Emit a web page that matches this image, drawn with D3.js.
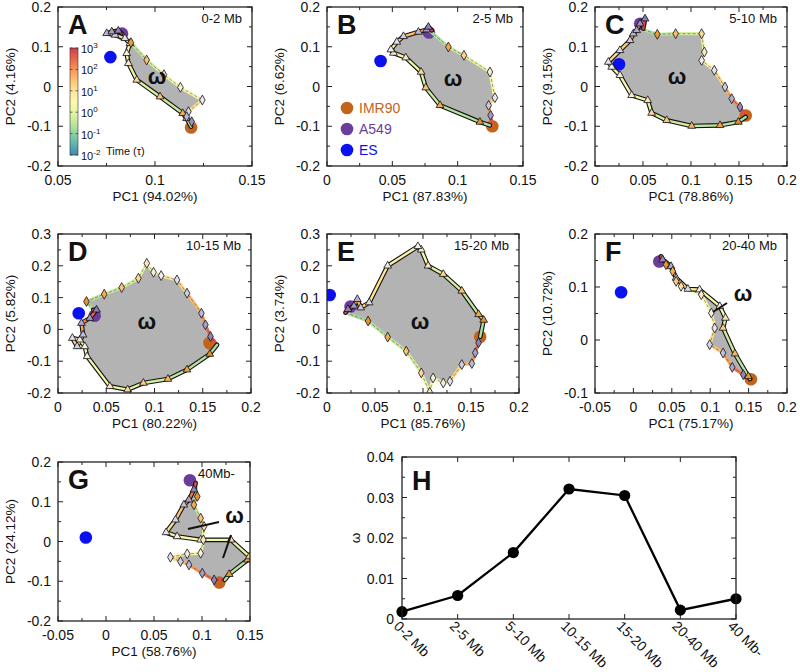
<!DOCTYPE html>
<html><head><meta charset="utf-8">
<script src="https://cdn.jsdelivr.net/npm/d3@7"></script>
<style>body{margin:0;background:#fff} text{font-family:"Liberation Sans",Arial,Helvetica,sans-serif;fill:#111}</style>
</head><body><svg id="c" width="800" height="672"></svg>
<script>
// ---------------- DATA ----------------
const panelNames = ["A","B","C","D","E","F","G"];
const sizeLabels = ["0-2 Mb","2-5 Mb","5-10 Mb","10-15 Mb","15-20 Mb","20-40 Mb","40Mb-"];
const pc1Labels = ["PC1 (94.02%)","PC1 (87.83%)","PC1 (78.86%)","PC1 (80.22%)","PC1 (85.76%)","PC1 (75.17%)","PC1 (58.76%)"];
const pc2Labels = ["PC2 (4.16%)","PC2 (6.62%)","PC2 (9.15%)","PC2 (5.82%)","PC2 (3.74%)","PC2 (10.72%)","PC2 (24.12%)"];
const xDomains = [[0.05,0.15],[0,0.15],[0,0.2],[0,0.2],[0,0.2],[-0.05,0.2],[-0.05,0.15]];
const yDomains = [[-0.2,0.2],[-0.2,0.2],[-0.2,0.2],[-0.2,0.3],[-0.2,0.3],[-0.1,0.2],[-0.2,0.2]];
const xTicks = [[0.05,0.1,0.15],[0,0.05,0.1,0.15],[0,0.05,0.1,0.15,0.2],[0,0.05,0.1,0.15,0.2],[0,0.05,0.1,0.15,0.2],[-0.05,0,0.05,0.1,0.15,0.2],[-0.05,0,0.05,0.1,0.15]];
const yTicks = [[-0.2,-0.1,0,0.1,0.2],[-0.2,-0.1,0,0.1,0.2],[-0.2,-0.1,0,0.1,0.2],[-0.2,-0.1,0,0.1,0.2,0.3],[-0.2,-0.1,0,0.1,0.2,0.3],[-0.1,0,0.1,0.2],[-0.2,-0.1,0,0.1,0.2]];

const cellNames = ["IMR90","A549","ES"];
const cellColors = ["#c4631c","#6a3d9a","#0a10f0"];
const esPts    = [[0.077,0.074],[0.041,0.064],[0.025,0.056],[0.0215,0.051],[0.0028,0.108],[-0.016,0.090],[-0.021,0.010]];
const imr90Pts = [[0.1186,-0.103],[0.1265,-0.100],[0.157,-0.073],[0.157,-0.043],[0.1596,-0.023],[0.153,-0.074],[0.118,-0.103]];
const a549Pts  = [[0.083,0.133],[0.078,0.136],[0.047,0.158],[0.038,0.043],[0.0245,0.072],[0.0337,0.148],[0.0874,0.154]];

// trajectory 1 (solid, triangles): IMR90 -> A549 ; trajectory 2 (dashed, diamonds): A549 -> IMR90
const solidA = [[0.1186,-0.101],[0.1163,-0.080],[0.1143,-0.0675],[0.1026,-0.0256],[0.0906,0.0164],[0.0863,0.0583],[0.0854,0.0834],[0.0871,0.1086],[0.0845,0.1212],[0.0794,0.1296],[0.0751,0.1337],[0.0777,0.138],[0.0811,0.140],[0.0828,0.1337]];
const dashA  = [[0.0828,0.1296],[0.0876,0.1103],[0.0957,0.0667],[0.1046,0.0298],[0.1131,-0.0021],[0.1244,-0.034],[0.1172,-0.0633],[0.1163,-0.0759],[0.1189,-0.0885],[0.1186,-0.101]];
const solidB = [[0.1247,-0.0977],[0.117,-0.0893],[0.0865,-0.0474],[0.0756,-0.0029],[0.072,0.0365],[0.0603,0.0725],[0.0509,0.0843],[0.0489,0.0927],[0.0534,0.112],[0.0585,0.1262],[0.07,0.1371],[0.0763,0.143],[0.0776,0.1497],[0.0802,0.1413]];
const dashB  = [[0.0789,0.1396],[0.0929,0.0994],[0.1048,0.0784],[0.1247,0.0365],[0.1285,-0.0281],[0.1237,-0.0474],[0.1252,-0.0725],[0.1265,-0.0977]];
const solidC = [[0.157,-0.0767],[0.1493,-0.0893],[0.1302,-0.0977],[0.1007,-0.0994],[0.0747,-0.0851],[0.059,-0.0667],[0.0549,-0.0348],[0.0382,-0.0222],[0.026,0.0281],[0.0174,0.0491],[0.0139,0.0616],[0.026,0.091],[0.0365,0.1161],[0.0399,0.1329],[0.0434,0.1413],[0.0469,0.158],[0.0521,0.1706],[0.0503,0.1455]];
const dashC  = [[0.0503,0.143],[0.0649,0.1312],[0.084,0.1329],[0.1111,0.1329],[0.1139,0.0868],[0.1111,0.0658],[0.1243,0.0407],[0.1354,-0.0013],[0.1424,-0.0306],[0.151,-0.0516],[0.157,-0.0725]];
const solidD = [[0.1649,-0.0483],[0.1573,-0.0776],[0.1337,-0.1268],[0.1139,-0.1561],[0.0885,-0.1686],[0.0722,-0.1895],[0.0538,-0.1791],[0.0302,-0.0849],[0.0278,-0.0536],[0.0226,-0.0326],[0.0149,-0.0274],[0.0198,-0.0536],[0.026,-0.0169],[0.0243,0.0197],[0.033,0.0354],[0.0399,0.0615],[0.0365,0.0615]];
const dashD  = [[0.0365,0.0615],[0.0295,0.0877],[0.0479,0.1107],[0.066,0.1316],[0.0833,0.1609],[0.092,0.208],[0.099,0.1797],[0.1069,0.1692],[0.1233,0.1556],[0.1337,0.1138],[0.1486,0.051],[0.1528,0.0144],[0.158,-0.0222],[0.1649,-0.0483]];
const solidE = [[0.1596,-0.0232],[0.1632,0.0295],[0.1579,0.0474],[0.1404,0.1211],[0.1211,0.1737],[0.1053,0.2],[0.0982,0.2505],[0.0947,0.2611],[0.0632,0.2],[0.0439,0.0842],[0.0351,0.0684],[0.0316,0.0947],[0.0281,0.0737],[0.0218,0.0632],[0.0193,0.0526]];
const dashE  = [[0.0193,0.0526],[0.0428,0.0263],[0.0632,-0.0242],[0.0825,-0.0684],[0.0982,-0.1368],[0.107,-0.1979],[0.1105,-0.1526],[0.1211,-0.1684],[0.1281,-0.1632],[0.1404,-0.1105],[0.1509,-0.1074],[0.1544,-0.0737],[0.1579,-0.0421],[0.1596,-0.0232]];
const solidF = [[0.1519,-0.0736],[0.1497,-0.0686],[0.1322,-0.0258],[0.1168,0.0226],[0.1199,0.0415],[0.1125,0.0635],[0.0862,0.095],[0.0709,0.0962],[0.0556,0.117],[0.049,0.139],[0.0381,0.1516],[0.0359,0.1579]];
const dashF  = [[0.0359,0.1579],[0.0425,0.1421],[0.0512,0.1296],[0.0556,0.1107],[0.0621,0.1013],[0.0884,0.0855],[0.1015,0.0509],[0.1059,0.0226],[0.0993,-0.0088],[0.1168,-0.0245],[0.1287,-0.0516],[0.1431,-0.0654],[0.1519,-0.0736]];
const solidG = [[0.1238,-0.0966],[0.1283,-0.0824],[0.1476,-0.0462],[0.1493,-0.0378],[0.1301,0.0042],[0.0986,0.0042],[0.0741,0.0126],[0.0626,0.0227],[0.0724,0.0546],[0.0811,0.0924],[0.0864,0.105],[0.0916,0.1303],[0.0934,0.1471]];
const dashG  = [[0.0934,0.1471],[0.0951,0.1134],[0.0916,0.0924],[0.0986,0.0588],[0.1021,0.0378],[0.1014,0.0042],[0.0986,-0.0294],[0.0846,-0.0311],[0.0671,-0.0395],[0.0776,-0.0504],[0.0864,-0.0588],[0.1003,-0.0798],[0.1126,-0.0966],[0.1238,-0.0966]];
const solidPaths = [solidA,solidB,solidC,solidD,solidE,solidF,solidG];
const dashPaths  = [dashA,dashB,dashC,dashD,dashE,dashF,dashG];
const omegaPos = [[0.101,0.021],[0.0964,0.0164],[0.0854,0.021],[0.092,0.02],[0.097,0.02],[0.1427,0.085],[0.134,0.062]];
const omegaPointers = [[],[],[],[],[],[[0.1036,0.0528,0.1219,0.0698]],[[0.0854,0.0314,0.1177,0.049],[0.1219,-0.0415,0.1302,0.0164]]];

const timeExponents = [3,2,1,0,-1,-2];

const hCategories = ["0-2 Mb","2-5 Mb","5-10 Mb","10-15 Mb","15-20 Mb","20-40 Mb","40 Mb-"];
const hValues = [0.0018,0.0058,0.0164,0.0321,0.0305,0.0022,0.0050];
const hYTicks = [0,0.01,0.02,0.03,0.04];

// ---------------- LAYOUT ----------------
const frames = [[58,252,7,166],[327,523,7,166],[595,787,7,166],[58,251,234,393],[327,519,234,393],[595,787,234,393],[58,250,462,621]];
const svg = d3.select("#c");
const fmt = v => (+v.toFixed(3)).toString();
const lineColor = f => d3.interpolateSpectral(0.9 - 0.8*(0.25 + 0.75*Math.pow(f,1.5)));
const markColor = f => d3.interpolatePuOr(0.82 - 0.64*f);
const TICKF = 14, TITLEF = 13.5;

function mids(t){ const m=[]; for(let i=0;i<t.length-1;i++) m.push((t[i]+t[i+1])/2); return m; }

function frameAxes(g, x, y, xt, yt, x0,x1,y0,y1, minorX, minorY){
  const tk = g.append("g").attr("stroke","#222").attr("stroke-width",1);
  xt.forEach(v=>{ const px=x(v);
    tk.append("line").attr("x1",px).attr("x2",px).attr("y1",y1).attr("y2",y1-5);
    tk.append("line").attr("x1",px).attr("x2",px).attr("y1",y0).attr("y2",y0+5);});
  minorX.forEach(v=>{ const px=x(v);
    tk.append("line").attr("x1",px).attr("x2",px).attr("y1",y1).attr("y2",y1-3);
    tk.append("line").attr("x1",px).attr("x2",px).attr("y1",y0).attr("y2",y0+3);});
  yt.forEach(v=>{ const py=y(v);
    tk.append("line").attr("x1",x0).attr("x2",x0+5).attr("y1",py).attr("y2",py);
    tk.append("line").attr("x1",x1).attr("x2",x1-5).attr("y1",py).attr("y2",py);});
  minorY.forEach(v=>{ const py=y(v);
    tk.append("line").attr("x1",x0).attr("x2",x0+3).attr("y1",py).attr("y2",py);
    tk.append("line").attr("x1",x1).attr("x2",x1-3).attr("y1",py).attr("y2",py);});
  g.append("rect").attr("x",x0).attr("y",y0).attr("width",x1-x0).attr("height",y1-y0)
    .attr("fill","none").attr("stroke","#222").attr("stroke-width",1.3);
}

panelNames.forEach((name,i)=>{
  const [x0,x1,y0,y1] = frames[i];
  const x = d3.scaleLinear().domain(xDomains[i]).range([x0,x1]);
  const y = d3.scaleLinear().domain(yDomains[i]).range([y1,y0]);
  const g = svg.append("g");
  const defs = g.append("defs");
  defs.append("clipPath").attr("id","clip"+i).append("rect").attr("x",x0).attr("y",y0).attr("width",x1-x0).attr("height",y1-y0);
  const pg = g.append("g").attr("clip-path",`url(#clip${i})`);
  const line = d3.line().x(d=>x(d[0])).y(d=>y(d[1]));

  const sP = solidPaths[i], dP = dashPaths[i];
  // omega area enclosed by the two trajectories
  pg.append("path").attr("d", line(sP.concat(dP))+"Z").attr("fill","#b3b3b3").attr("stroke","none");

  // cell type points
  const cells = [imr90Pts[i], a549Pts[i], esPts[i]];
  [1,0,2].forEach(k=>{
    pg.append("circle").attr("cx",x(cells[k][0])).attr("cy",y(cells[k][1])).attr("r",6.3).attr("fill",cellColors[k]);
  });

  // dashed trajectory
  const n2 = dP.length;
  for(let j=0;j<n2-1;j++){
    pg.append("line").attr("x1",x(dP[j][0])).attr("y1",y(dP[j][1])).attr("x2",x(dP[j+1][0])).attr("y2",y(dP[j+1][1]))
      .attr("stroke",lineColor((j+0.5)/(n2-1))).attr("stroke-width",3.2).attr("stroke-linecap","round");
  }
  pg.append("path").attr("d", line(dP))
    .attr("fill","none").attr("stroke","rgba(70,70,70,0.55)").attr("stroke-width",1).attr("stroke-dasharray","3,2");

  // solid trajectory
  pg.append("path").attr("d", line(sP))
    .attr("fill","none").attr("stroke","#111").attr("stroke-width",4.6).attr("stroke-linejoin","round").attr("stroke-linecap","round");
  const n1 = sP.length;
  for(let j=0;j<n1-1;j++){
    pg.append("line").attr("x1",x(sP[j][0])).attr("y1",y(sP[j][1])).attr("x2",x(sP[j+1][0])).attr("y2",y(sP[j+1][1]))
      .attr("stroke",lineColor((j+0.5)/(n1-1))).attr("stroke-width",2.4).attr("stroke-linecap","round");
  }
  // markers
  const tri = d3.symbol().type(d3.symbolTriangle).size(26);
  const dia = d3.symbol().type(d3.symbolDiamond).size(28);
  sP.forEach((p,j)=>{ if(j===0||j===n1-1) return;
    pg.append("path").attr("d",tri()).attr("transform",`translate(${x(p[0])},${y(p[1])})`)
      .attr("fill",markColor(j/(n1-1))).attr("stroke","#111").attr("stroke-width",0.8);});
  dP.forEach((p,j)=>{ if(j===0||j===n2-1) return;
    pg.append("path").attr("d",dia()).attr("transform",`translate(${x(p[0])},${y(p[1])})`)
      .attr("fill",markColor(j/(n2-1))).attr("stroke","#111").attr("stroke-width",0.8);});

  // omega text + pointers
  omegaPointers[i].forEach(l=>{
    g.append("line").attr("x1",x(l[0])).attr("y1",y(l[1])).attr("x2",x(l[2])).attr("y2",y(l[3]))
      .attr("stroke","#111").attr("stroke-width",2);
  });
  g.append("text").attr("x",x(omegaPos[i][0])).attr("y",y(omegaPos[i][1])+6).attr("text-anchor","middle")
    .attr("font-size",22).attr("font-weight","bold").text("ω");

  // axes
  frameAxes(g,x,y,xTicks[i],yTicks[i],x0,x1,y0,y1,mids(xTicks[i]),mids(yTicks[i]));
  xTicks[i].forEach(v=> g.append("text").attr("x",x(v)).attr("y",y1+19).attr("text-anchor","middle").attr("font-size",TICKF).text(fmt(v)));
  yTicks[i].forEach(v=> g.append("text").attr("x",x0-7).attr("y",y(v)+5).attr("text-anchor","end").attr("font-size",TICKF).text(fmt(v)));
  g.append("text").attr("x",(x0+x1)/2).attr("y",y1+35).attr("text-anchor","middle").attr("font-size",TITLEF).text(pc1Labels[i]);
  g.append("text").attr("transform",`translate(${x0-43},${(y0+y1)/2}) rotate(-90)`).attr("text-anchor","middle").attr("font-size",TITLEF).text(pc2Labels[i]);
  g.append("text").attr("x",x0+10).attr("y",y0+27).attr("font-size",27).attr("font-weight","bold").text(name);
  if(i===6) g.append("text").attr("x",x0+140).attr("y",y0+16).attr("font-size",13).text(sizeLabels[i]);
  else g.append("text").attr("x",x1-10).attr("y",y0+16).attr("text-anchor","end").attr("font-size",13).text(sizeLabels[i]);

  // colorbar in A
  if(i===0){
    const cb = {x:70,y:48,w:8,h:107};
    const grad = defs.append("linearGradient").attr("id","cbg").attr("x1",0).attr("y1",1).attr("x2",0).attr("y2",0);
    d3.range(0,1.0001,0.1).forEach(t=> grad.append("stop").attr("offset",t).attr("stop-color",d3.interpolateSpectral(0.9-0.8*t)));
    g.append("rect").attr("x",cb.x).attr("y",cb.y).attr("width",cb.w).attr("height",cb.h).attr("fill","url(#cbg)").attr("stroke","#333").attr("stroke-width",0.6);
    const ty = d3.scaleLinear().domain([-2,3]).range([cb.y+cb.h,cb.y]);
    timeExponents.forEach(e=>{
      g.append("line").attr("x1",cb.x).attr("x2",cb.x+2.5).attr("y1",ty(e)).attr("y2",ty(e)).attr("stroke","#333").attr("stroke-width",0.7);
      g.append("line").attr("x1",cb.x+cb.w).attr("x2",cb.x+cb.w-2.5).attr("y1",ty(e)).attr("y2",ty(e)).attr("stroke","#333").attr("stroke-width",0.7);
      const t = g.append("text").attr("x",cb.x+11).attr("y",ty(e)+5).attr("font-size",11).attr("fill","#333");
      t.append("tspan").text("10");
      t.append("tspan").attr("dy",-5).attr("font-size",8).text(e);
    });
    g.append("text").attr("x",cb.x+36).attr("y",cb.y+cb.h).attr("font-size",11).text("Time (τ)");
  }
  // legend in B
  if(i===1){
    cellNames.forEach((nm,k)=>{
      const ly = y0+101+k*21;
      g.append("circle").attr("cx",347).attr("cy",ly).attr("r",6.3).attr("fill",cellColors[k]);
      g.append("text").attr("x",359).attr("y",ly+5).attr("font-size",14).style("fill",cellColors[k]).text(nm);
    });
  }
});

// ---------------- PANEL H ----------------
{
  const x0=402,x1=736,y0=457,y1=619;
  const x = d3.scalePoint().domain(hCategories).range([x0,x1]).padding(0);
  const y = d3.scaleLinear().domain([0,0.04]).range([y1,y0]);
  const g = svg.append("g");
  const tk = g.append("g").attr("stroke","#222").attr("stroke-width",1);
  hCategories.forEach(c=>{ const px=x(c);
    tk.append("line").attr("x1",px).attr("x2",px).attr("y1",y1).attr("y2",y1-5);
    tk.append("line").attr("x1",px).attr("x2",px).attr("y1",y0).attr("y2",y0+5);});
  hYTicks.forEach(v=>{ const py=y(v);
    tk.append("line").attr("x1",x0).attr("x2",x0+5).attr("y1",py).attr("y2",py);
    tk.append("line").attr("x1",x1).attr("x2",x1-5).attr("y1",py).attr("y2",py);});
  mids(hYTicks).forEach(v=>{ const py=y(v);
    tk.append("line").attr("x1",x0).attr("x2",x0+3).attr("y1",py).attr("y2",py);
    tk.append("line").attr("x1",x1).attr("x2",x1-3).attr("y1",py).attr("y2",py);});
  g.append("path").attr("d",d3.line().x((d,j)=>x(hCategories[j])).y(d=>y(d))(hValues))
    .attr("fill","none").attr("stroke","#000").attr("stroke-width",2.3);
  hValues.forEach((v,j)=> g.append("circle").attr("cx",x(hCategories[j])).attr("cy",y(v)).attr("r",5.6).attr("fill","#000"));
  g.append("rect").attr("x",x0).attr("y",y0).attr("width",x1-x0).attr("height",y1-y0)
    .attr("fill","none").attr("stroke","#222").attr("stroke-width",1.3);
  hYTicks.forEach(v=> g.append("text").attr("x",x0-8).attr("y",y(v)+5).attr("text-anchor","end").attr("font-size",TICKF).text(fmt(v)));
  hCategories.forEach(c=> g.append("text").attr("transform",`translate(${x(c)-9},${y1+8}) rotate(45)`).attr("font-size",TICKF).text(c));
  g.append("text").attr("transform",`translate(360,${(y0+y1)/2}) rotate(-90)`).attr("text-anchor","middle").attr("font-size",TITLEF).text("ω");
  g.append("text").attr("x",x0+10).attr("y",y0+33).attr("font-size",27).attr("font-weight","bold").text("H");
}
</script></body></html>
